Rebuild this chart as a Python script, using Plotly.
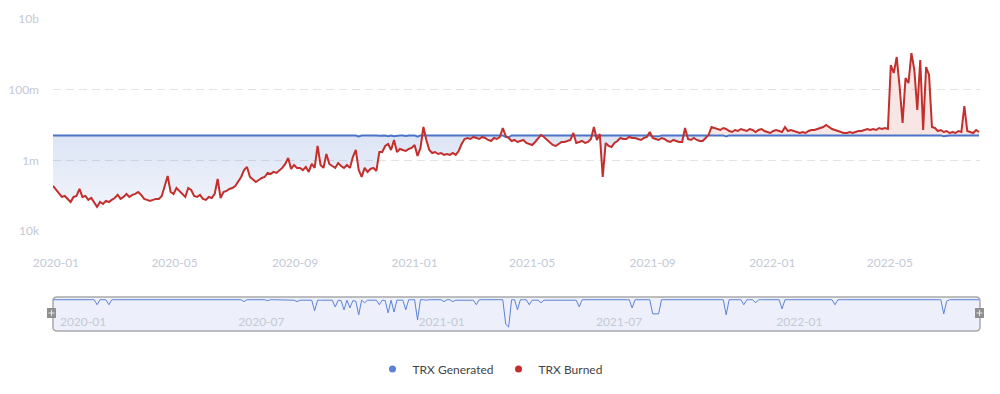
import pandas as pd
import plotly.graph_objects as go

# ---------------- data (values in thousands of TRX, sampled every 3 days) ----------------
start_date = "2019-12-29"
step = "3D"

trx_burned_k = [
    188, 145, 112, 92, 98, 81, 66, 92, 98, 155,
    92, 98, 76, 86, 62, 48, 66, 58, 71, 66,
    76, 86, 105, 81, 92, 112, 92, 105, 112, 127,
    105, 81, 76, 71, 76, 81, 81, 98, 188, 360,
    127, 112, 165, 136, 112, 92, 165, 145, 98, 92,
    105, 81, 76, 92, 86, 112, 297, 86, 127, 136,
    155, 165, 188, 244, 338, 530, 650, 338, 278, 244,
    278, 317, 338, 440, 410, 470, 440, 530, 610, 790,
    1170, 570, 740, 610, 610, 530, 650, 470, 790, 610,
    2550, 740, 610, 1510, 790, 690, 610, 840, 690, 610,
    740, 610, 1240, 1960, 530, 338, 610, 470, 570, 610,
    500, 1720, 1720, 2550, 2900, 1960, 3770, 1720, 2100, 1960,
    1840, 2100, 2240, 2720, 1330, 2240, 8780, 3770, 1960, 1610,
    1720, 1510, 1610, 1420, 1510, 1420, 1610, 1420, 1840, 2900,
    4020, 4290, 4020, 4580, 4290, 4020, 4580, 4290, 3770, 3530,
    4290, 4020, 4580, 8230, 4890, 4290, 3530, 3770, 3310, 3530,
    3770, 3100, 2900, 2720, 3310, 4290, 5220, 4580, 3770, 3100,
    2720, 2550, 2900, 3310, 3310, 3530, 3770, 5940, 3100, 3310,
    3530, 3100, 3310, 4020, 8780, 3770, 5570, 338, 3100, 2550,
    2390, 3100, 3530, 4290, 4020, 4020, 4580, 4290, 4290, 4020,
    3770, 4290, 4580, 6340, 4290, 4020, 3770, 4290, 4020, 3530,
    3310, 3770, 3530, 3310, 3310, 8230, 4020, 3770, 4290, 3770,
    3530, 3530, 4290, 5220, 8780, 8230, 7710, 7220, 8230, 7710,
    6770, 6340, 7220, 6770, 7710, 7220, 6770, 7710, 7220, 6340,
    7220, 7710, 6770, 6340, 5940, 6770, 7220, 6770, 6340, 8780,
    6770, 7220, 6770, 6340, 5940, 6340, 5940, 6770, 7220, 7220,
    7710, 8230, 8780, 10000, 8780, 7710, 7220, 6770, 6340, 5940,
    5940, 6340, 5940, 6340, 6770, 6770, 7220, 7710, 7220, 7710,
    7220, 8230, 7710, 8230, 7710, 499000, 296000, 841000, 119000, 11400,
    214000, 154000, 1090000, 360000, 26600, 692000, 7220, 438000, 260000, 8780,
    8230, 6770, 7220, 6340, 6770, 5940, 6340, 5940, 6770, 6340,
    34500, 6770, 6340, 5940, 7220, 6340,
]

trx_generated_k = [
    5070, 5070, 5070, 5070, 5070, 5070, 5070, 5070, 5070, 5070,
    5070, 5070, 5070, 5070, 5070, 4965, 5070, 5070, 5070, 4965,
    5070, 5070, 5070, 5070, 5070, 5070, 5070, 5070, 5070, 5070,
    5070, 5070, 5070, 5070, 5070, 5070, 5070, 5070, 5070, 5070,
    5070, 5070, 5070, 5070, 5070, 5070, 5070, 5070, 5070, 5070,
    5070, 5070, 5070, 5070, 5070, 5070, 5070, 5070, 5070, 5070,
    5070, 5070, 5070, 5070, 5070, 5030, 5070, 5070, 5070, 5070,
    5070, 5070, 5070, 5050, 5070, 5070, 5070, 5070, 5070, 5070,
    5070, 5070, 5060, 5030, 5060, 5060, 5060, 5060, 5060, 4840,
    5060, 5060, 5060, 5060, 5060, 5060, 4920, 5060, 5050, 4860,
    5060, 4900, 5050, 5040, 4755, 5060, 5005, 5060, 5060, 5060,
    5060, 4965, 5060, 5050, 4795, 5060, 4815, 5060, 5060, 5060,
    4860, 5070, 5070, 5070, 4650, 5070, 5070, 5060, 5070, 5070,
    5060, 5070, 5070, 5030, 5070, 5070, 5030, 5060, 5060, 5060,
    5060, 5060, 5060, 5060, 4965, 5070, 5070, 5070, 5070, 5070,
    5070, 5070, 5070, 5070, 4560, 4500, 5070, 5070, 4860, 5070,
    5070, 5070, 4965, 5060, 5060, 5060, 5005, 5060, 5060, 5060,
    5060, 5060, 5060, 5060, 5060, 5060, 5060, 5060, 5060, 4920,
    5070, 5070, 5070, 5070, 5070, 5070, 5070, 5070, 5070, 5070,
    5070, 5070, 5070, 5070, 5070, 5070, 5070, 4900, 5070, 5070,
    5070, 5070, 5070, 5070, 4775, 4780, 4775, 5070, 5070, 5070,
    5070, 5070, 5070, 5070, 5070, 5070, 5070, 5070, 5070, 5070,
    5070, 5070, 5070, 5070, 5070, 5070, 5070, 5070, 5070, 4755,
    5070, 5070, 5070, 5070, 5070, 4965, 5070, 5070, 5070, 5005,
    5070, 5070, 5070, 5070, 5070, 5070, 5070, 5070, 4880, 5070,
    5070, 5070, 5070, 5070, 5070, 5070, 5070, 5070, 5070, 5070,
    5070, 5070, 5070, 5070, 5070, 5070, 4965, 5070, 5070, 5070,
    5070, 5070, 5070, 5070, 5070, 5070, 5070, 5070, 5070, 5070,
    5070, 5070, 5070, 5070, 5070, 5070, 5070, 5070, 5070, 5070,
    5070, 5070, 5070, 5070, 5070, 5070, 5070, 5070, 5070, 5070,
    5070, 5070, 5070, 4775, 5040, 5070, 5070, 5070, 5070, 5070,
    5070, 5070, 5070, 5070, 5070, 5070,
]

y_tick_values = [1e4, 1e6, 1e8, 1e10]
y_tick_labels = ["10k", "1m", "100m", "10b"]
series_names = ["TRX Generated", "TRX Burned"]

# ---------------- derived ----------------
dates = pd.date_range(start_date, periods=len(trx_burned_k), freq=step)
burned = [v * 1000 for v in trx_burned_k]
generated = [v * 1000 for v in trx_generated_k]
lower = [min(g, b) for g, b in zip(generated, burned)]
upper = [max(g, b) for g, b in zip(generated, burned)]

BLUE = "#4a73c9"
BLUE_LIGHT = "#5b82d8"
RED = "#c22f2c"
LABEL = "#c3c9d5"
FONT = "Lato, 'Open Sans', sans-serif"
W, H = 1000, 394

def px(x):
    return x / W

def py(y):
    return 1 - y / H

fig = go.Figure()

fig.add_trace(go.Scatter(x=dates, y=lower, mode="lines", line=dict(width=0),
                         showlegend=False, hoverinfo="skip", legendgroup="gen"))
fig.add_trace(go.Scatter(
    x=dates, y=generated, mode="lines", name=series_names[0], legendgroup="gen",
    line=dict(color=BLUE, width=2), fill="tonexty",
    fillgradient=dict(type="vertical", start=1e4, stop=5.07e6,
                      colorscale=[[0, "rgba(74,115,201,0.05)"], [1, "rgba(74,115,201,0.19)"]]),
    showlegend=False))
fig.add_trace(go.Scatter(x=dates, y=upper, mode="lines", line=dict(width=0),
                         fill="tonexty", fillcolor="rgba(194,47,44,0.12)",
                         showlegend=False, hoverinfo="skip", legendgroup="burn"))
fig.add_trace(go.Scatter(x=dates, y=burned, mode="lines", name=series_names[1],
                         legendgroup="burn", line=dict(color=RED, width=2),
                         showlegend=False))

# navigator series
fig.add_trace(go.Scatter(x=dates, y=generated, mode="lines", xaxis="x2", yaxis="y2",
                         line=dict(color=BLUE_LIGHT, width=1), showlegend=False,
                         hoverinfo="skip"))

# legend entries (dots)
fig.add_trace(go.Scatter(x=[None], y=[None], mode="markers", name=series_names[0],
                         legendgroup="gen", marker=dict(color=BLUE_LIGHT, size=7)))
fig.add_trace(go.Scatter(x=[None], y=[None], mode="markers", name=series_names[1],
                         legendgroup="burn", marker=dict(color=RED, size=7)))

x_range = ["2019-12-29", "2022-08-01"]

# navigator frame with rounded corners
x0, x1, y0, y1 = 53, 980, 297, 331
r = 4
path = (f"M {px(x0 + r)},{py(y0)} L {px(x1 - r)},{py(y0)} Q {px(x1)},{py(y0)} {px(x1)},{py(y0 + r)} "
        f"L {px(x1)},{py(y1 - r)} Q {px(x1)},{py(y1)} {px(x1 - r)},{py(y1)} "
        f"L {px(x0 + r)},{py(y1)} Q {px(x0)},{py(y1)} {px(x0)},{py(y1 - r)} "
        f"L {px(x0)},{py(y0 + r)} Q {px(x0)},{py(y0)} {px(x0 + r)},{py(y0)} Z")
shapes = [dict(type="path", xref="paper", yref="paper", path=path,
               fillcolor="#edf0fa", line=dict(color="#a9a9a9", width=1.5), layer="below")]
for hx in (52, 980):
    shapes.append(dict(type="rect", xref="paper", yref="paper",
                       x0=px(hx - 5), x1=px(hx + 4), y0=py(318), y1=py(308),
                       fillcolor="#8f8f8f", line=dict(width=0), layer="above"))
    shapes.append(dict(type="line", xref="paper", yref="paper",
                       x0=px(hx - 0.5), x1=px(hx - 0.5), y0=py(316), y1=py(310),
                       line=dict(color="#e8e8e8", width=1), layer="above"))
    shapes.append(dict(type="line", xref="paper", yref="paper",
                       x0=px(hx - 3.5), x1=px(hx + 2.5), y0=py(313), y1=py(313),
                       line=dict(color="#e8e8e8", width=1), layer="above"))

fig.update_layout(
    width=W, height=H,
    margin=dict(l=0, r=0, t=0, b=0, autoexpand=False),
    paper_bgcolor="white", plot_bgcolor="rgba(0,0,0,0)",
    font=dict(family=FONT, size=12, color="#444"),
    showlegend=True,
    legend=dict(orientation="h", x=0.49, xanchor="center", y=py(369), yanchor="middle",
                font=dict(family=FONT, size=12, color="#444"), bgcolor="rgba(0,0,0,0)"),
    shapes=shapes,
    xaxis=dict(type="date", domain=[px(53), px(980)], range=x_range,
               tickformat="%Y-%m", dtick="M4", tick0="2020-01-01",
               showgrid=False, zeroline=False, showline=False, ticks="",
               tickfont=dict(family=FONT, size=12, color=LABEL), automargin=False,
               ticklabelstandoff=23, anchor="y", fixedrange=True),
    yaxis=dict(type="log", domain=[py(231), py(19)], range=[4, 10],
               tickvals=y_tick_values, ticktext=y_tick_labels,
               showgrid=True, gridcolor="#e3e3e3", griddash="8px,5px", gridwidth=1,
               zeroline=False, showline=False, ticks="", automargin=False,
               tickfont=dict(family=FONT, size=12, color=LABEL),
               ticklabelstandoff=13, anchor="x", fixedrange=True),
    xaxis2=dict(type="date", domain=[px(53), px(980)], range=x_range,
                tickformat="%Y-%m", dtick="M6", tick0="2020-01-01",
                showgrid=False, zeroline=False, showline=False, ticks="",
                ticklabelposition="inside right", automargin=False,
                ticklabelstandoff=-6, ticklabelshift=4,
                tickfont=dict(family=FONT, size=12, color=LABEL),
                anchor="y2", fixedrange=True),
    yaxis2=dict(domain=[py(328), py(299)], range=[4.48e6, 5.085e6], showticklabels=False,
                showgrid=False, zeroline=False, showline=False, anchor="x2",
                automargin=False, fixedrange=True),
)

fig.write_html(
    "out.html",
    config={"displayModeBar": False},
    post_script="document.body.style.margin='0';document.body.style.overflow='hidden';",
)
